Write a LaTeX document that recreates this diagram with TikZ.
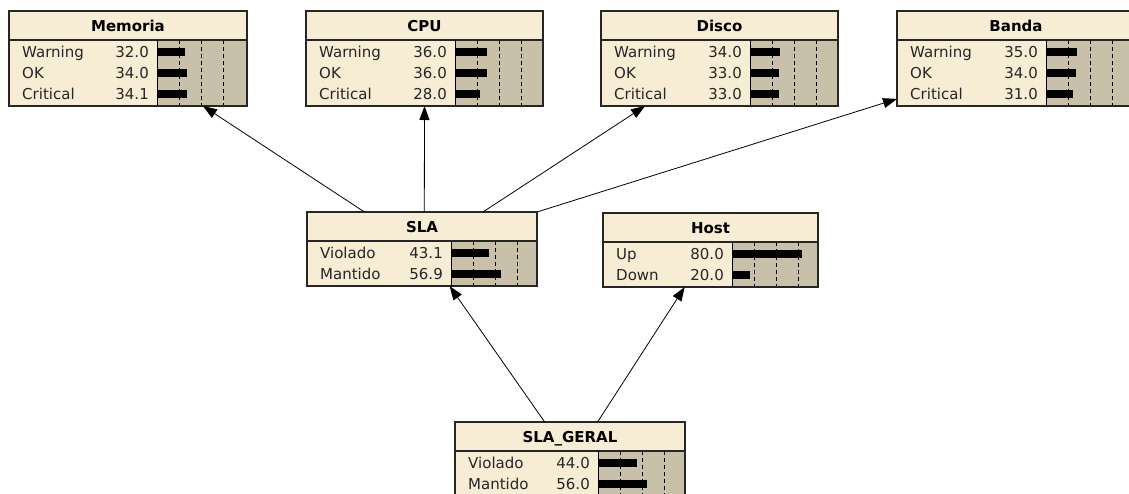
\documentclass[tikz,border=0pt]{standalone}
\usepackage{fontspec}
\setmainfont{DejaVu Sans}
\usetikzlibrary{arrows.meta,calc}
\definecolor{nodecream}{RGB}{247,236,212}
\definecolor{bartan}{RGB}{201,192,170}

% name, left, top, width, bar offset, rows, title, states
\newcommand{\beliefnode}[8]{%
  \pgfmathsetmacro{\boxh}{29+21*#6+3}
  \node[box node, minimum width=#4pt, minimum height=\boxh pt] (#1) at (#2,#3) {};
  \fill[bartan] (#2+#5,#3+29) rectangle (#2+#4,#3+\boxh);
  \foreach \p in {25,50,75}
    \draw[grid line] (#2+#5+0.88*\p,#3+29) -- (#2+#5+0.88*\p,#3+\boxh);
  \node[title text] (#1-title) at (#2+#4/2,#3+20) {#7};
  \foreach \lab/\val [count=\r] in {#8} {
    \node[state text, anchor=base west] (#1-s\r) at (#2+13,#3+25+21*\r) {\lab};
    \node[state text, anchor=base east] (#1-v\r) at (#2+#5-8,#3+25+21*\r) {\val};
    \fill (#2+#5,#3+16+21*\r) rectangle ++(0.88*\val,8);
  }
  \draw[box line] (#1.north west) rectangle (#1.south east);
  \draw[box line] (#2,#3+29) -- ++(#4,0);
  \draw[line width=0.8pt] (#2+#5,#3+29) -- (#2+#5,#3+\boxh);
}

\begin{document}
\begin{tikzpicture}[x=1pt, y=-1pt, font=\fontsize{15}{18}\selectfont,
    box node/.style={fill=nodecream, anchor=north west, inner sep=0pt, outer sep=0pt},
    box line/.style={line width=1.2pt, black!85},
    grid line/.style={line width=0.9pt, dash pattern=on 4pt off 3pt},
    title text/.style={font=\fontsize{15}{18}\selectfont\bfseries, anchor=base, inner sep=0pt},
    state text/.style={inner sep=0pt, text=black!85},
    arc/.style={line width=0.8pt, -{Triangle[length=14pt,width=10pt]}}]

    \fill[white] (0,0) rectangle (1129,493);
    \clip (0,0) rectangle (1129,493);

    % Top row
    \beliefnode{Mem}{9}{11}{238}{148}{3}{Memoria}{Warning/32.0, OK/34.0, Critical/34.1}
    \beliefnode{CPU}{306}{11}{237}{149}{3}{CPU}{Warning/36.0, OK/36.0, Critical/28.0}
    \beliefnode{Disco}{601}{11}{237}{149}{3}{Disco}{Warning/34.0, OK/33.0, Critical/33.0}
    \beliefnode{Banda}{897}{11}{238}{149}{3}{Banda}{Warning/35.0, OK/34.0, Critical/31.0}

    % Middle row
    \beliefnode{SLA}{307}{212}{230}{144}{2}{SLA}{Violado/43.1, Mantido/56.9}
    \beliefnode{Host}{603}{213}{215}{129}{2}{Host}{Up/80.0, Down/20.0}

    % Bottom
    \beliefnode{Geral}{455}{422}{230}{143}{2}{SLA\_GERAL}{Violado/44.0, Mantido/56.0}

    \draw[arc] ($(SLA.north west)!0.25!(SLA.north east)$) -- ($(Mem.south west)!0.815!(Mem.south east)$);
    \draw[arc] ($(SLA.north west)!0.51!(SLA.north east)$) -- (CPU.south);
    \draw[arc] ($(SLA.north west)!0.765!(SLA.north east)$) -- ($(Disco.south west)!0.186!(Disco.south east)$);
    \draw[arc] (SLA.north east) -- ($(Banda.south west)!0.075!(Banda.north west)$);
    \draw[arc] ($(Geral.north west)!0.39!(Geral.north east)$) -- ($(SLA.south west)!0.62!(SLA.south east)$);
    \draw[arc] ($(Geral.north west)!0.62!(Geral.north east)$) -- ($(Host.south west)!0.38!(Host.south east)$);

\end{tikzpicture}
\end{document}
